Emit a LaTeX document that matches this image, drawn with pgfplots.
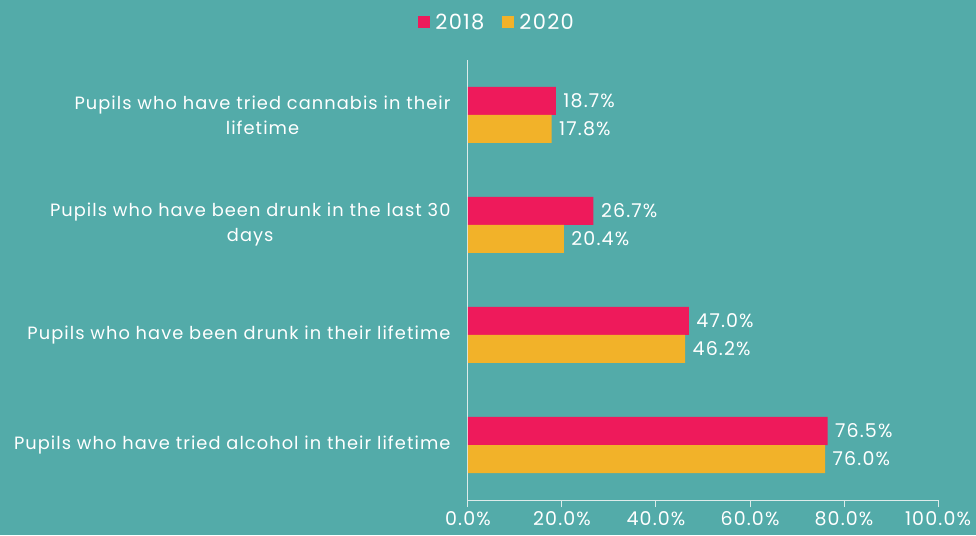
\documentclass[border=0pt]{standalone}
\usepackage{fontspec}
\setmainfont{Poppins}[LetterSpace=6]
\usepackage{pgfplots}
\pgfplotsset{compat=1.18}
\usetikzlibrary{backgrounds}
\definecolor{bg}{HTML}{53ABA9}
\definecolor{cred}{HTML}{EE1A5B}
\definecolor{cyel}{HTML}{F2B229}
\definecolor{axl}{HTML}{DDEBEA}
\begin{document}
\begin{tikzpicture}
\begin{axis}[name=ax, xbar, scale only axis, width=470pt, height=440pt,
  xmin=0, xmax=100, ymin=-0.5, ymax=3.5,
  bar width=28pt,
  axis x line*=bottom, axis y line*=left,
  axis line style={axl, line width=1pt},
  ytick={0,1,2,3},
  yticklabels={Pupils who have tried alcohol in their lifetime,
    Pupils who have been drunk in their lifetime,
    {Pupils who have been drunk in the last 30\\days},
    {Pupils who have tried cannabis in their\\lifetime}},
  yticklabel style={align=center, text=white, font=\fontsize{17.8}{25}\selectfont, xshift=-7pt},
  ytick style={draw=none},
  xtick={0,20,40,60,80,100},
  xtick style={axl, line width=1pt},
  tick pos=lower,
  tick align=outside,
  major tick length=7pt,
  xticklabel={\pgfmathprintnumber[fixed,fixed zerofill,precision=1]{\tick}\%},
  xticklabel style={text=white, font=\fontsize{19}{22}\selectfont, yshift=-1pt},
  /pgf/number format/assume math mode=true,
  nodes near coords={\pgfmathprintnumber[fixed,fixed zerofill,precision=1]{\pgfplotspointmeta}\%},
  nodes near coords style={text=white, font=\fontsize{19}{22}\selectfont, anchor=west, xshift=4pt},
  legend style={at={(0.062,1.086)}, anchor=center, legend columns=2, draw=none, fill=none,
    text=white, font=\fontsize{21}{24}\selectfont,
    /tikz/every even column/.append style={column sep=16pt}},
]
\addplot[fill=cred, draw=none, bar shift=14pt,
  legend image code/.code={\fill[cred] (0pt,-6pt) rectangle (12pt,6pt); \path (15pt,0pt);}]
  coordinates {(76.5,0) (47.0,1) (26.7,2) (18.7,3)};
\addplot[fill=cyel, draw=none, bar shift=-14pt,
  legend image code/.code={\fill[cyel] (0pt,-6pt) rectangle (12pt,6pt); \path (15pt,0pt);}]
  coordinates {(76.0,0) (46.2,1) (20.4,2) (17.8,3)};
\legend{2018,2020}
\end{axis}
\begin{scope}[on background layer]
\fill[bg] ([shift={(-468pt,-35pt)}]ax.south west) rectangle ([shift={(38pt,60pt)}]ax.north east);
\end{scope}
\pgfresetboundingbox
\path ([shift={(-468pt,-35pt)}]ax.south west) rectangle ([shift={(38pt,60pt)}]ax.north east);
\end{tikzpicture}
\end{document}
